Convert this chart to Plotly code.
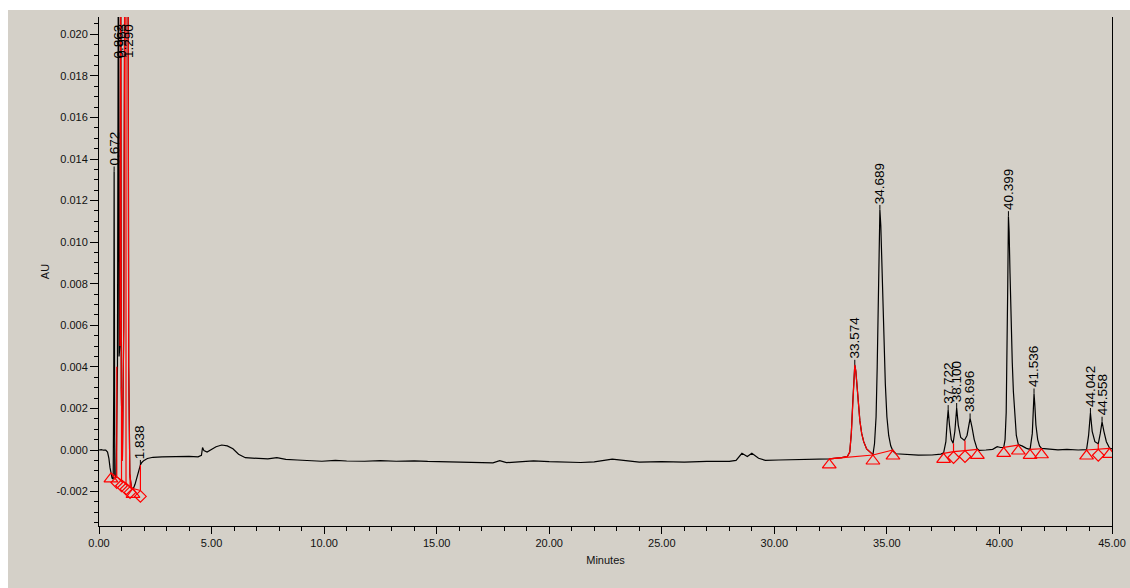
import plotly.graph_objects as go

# ---- chromatogram trace: retention time (min) and detector response (AU) ----
time_min = [
    0.00, 0.10, 0.20, 0.30, 0.38, 0.44, 0.49, 0.53, 0.58, 0.63,
    0.655, 0.672, 0.685, 0.70, 0.76, 0.82, 0.862, 0.89, 0.93, 0.963,
    0.99, 1.04, 1.10, 1.15, 1.25, 1.290, 1.32, 1.37, 1.44, 1.51,
    1.60, 1.70, 1.78, 1.838, 1.90, 2.00, 2.15, 2.40, 2.80, 3.20,
    3.60, 4.00, 4.40, 4.55, 4.60, 4.66, 4.80, 5.00, 5.20, 5.45,
    5.70, 5.95, 6.20, 6.50, 7.00, 7.50, 7.90, 8.30, 8.80, 9.40,
    9.90, 10.50, 11.00, 11.80, 12.50, 13.20, 14.00, 14.60, 15.40, 16.20,
    17.00, 17.50, 17.80, 18.10, 18.80, 19.30, 20.00, 20.80, 21.40, 22.00,
    22.80, 23.40, 24.00, 25.00, 26.00, 27.00, 28.00, 28.30, 28.56, 28.80,
    29.00, 29.30, 29.60, 30.20, 31.00, 31.80, 32.44, 33.00, 33.25, 33.35,
    33.42, 33.48, 33.53, 33.574, 33.62, 33.67, 33.73, 33.80, 33.88, 33.97,
    34.10, 34.25, 34.38, 34.45, 34.52, 34.57, 34.61, 34.65, 34.689, 34.73,
    34.77, 34.83, 34.88, 34.93, 35.00, 35.08, 35.17, 35.27, 35.40, 35.80,
    36.40, 37.00, 37.40, 37.52, 37.62, 37.68, 37.722, 37.78, 37.86, 37.94,
    38.02, 38.100, 38.17, 38.28, 38.44, 38.56, 38.63, 38.696, 38.78, 38.88,
    39.00, 39.10, 39.40, 39.70, 39.90, 40.05, 40.19, 40.25, 40.30, 40.34,
    40.37, 40.399, 40.43, 40.47, 40.52, 40.57, 40.62, 40.68, 40.75, 40.84,
    41.00, 41.20, 41.36, 41.46, 41.50, 41.536, 41.57, 41.62, 41.70, 41.78,
    41.87, 42.20, 42.60, 43.00, 43.50, 43.87, 43.96, 44.042, 44.12, 44.24,
    44.39, 44.48, 44.558, 44.64, 44.75, 44.89, 45.00,
]
absorbance_au = [
    0.00000, 0.00002, -0.00001, 0.00000, -0.00010, -0.00040, -0.00085, -0.00115, -0.00135, -0.00140,
    0.00300, 0.01340, 0.00250, -0.00120, -0.00135, 0.00400, 0.02600, 0.00450, 0.00500, 0.02600,
    0.00300, -0.00050, 0.00600, 0.02600, 0.02600, 0.02600, 0.00400, -0.00120, -0.00180, -0.00190,
    -0.00165, -0.00120, -0.00090, -0.00072, -0.00060, -0.00050, -0.00041, -0.00035, -0.00033, -0.00032,
    -0.00034, -0.00031, -0.00033, -0.00026, 0.00012, -0.00003, -0.00010, 0.00001, 0.00016, 0.00024,
    0.00020, 0.00006, -0.00020, -0.00037, -0.00040, -0.00043, -0.00037, -0.00045, -0.00048, -0.00051,
    -0.00054, -0.00050, -0.00053, -0.00054, -0.00051, -0.00054, -0.00052, -0.00055, -0.00057, -0.00058,
    -0.00060, -0.00062, -0.00051, -0.00061, -0.00056, -0.00052, -0.00056, -0.00058, -0.00060, -0.00057,
    -0.00044, -0.00051, -0.00058, -0.00056, -0.00058, -0.00055, -0.00055, -0.00050, -0.00016, -0.00031,
    -0.00016, -0.00040, -0.00050, -0.00048, -0.00047, -0.00046, -0.00043, -0.00037, -0.00030, -0.00010,
    0.00080, 0.00220, 0.00350, 0.00410, 0.00380, 0.00310, 0.00210, 0.00140, 0.00080, 0.00040,
    0.00005, -0.00012, -0.00022, 0.00030, 0.00160, 0.00400, 0.00650, 0.00960, 0.01155, 0.01080,
    0.00900, 0.00650, 0.00480, 0.00320, 0.00160, 0.00070, 0.00020, -0.00005, -0.00018, -0.00022,
    -0.00025, -0.00024, -0.00020, -0.00014, 0.00040, 0.00140, 0.00192, 0.00120, 0.00050, 0.00032,
    0.00090, 0.00202, 0.00120, 0.00060, 0.00046, 0.00070, 0.00115, 0.00152, 0.00110, 0.00050,
    0.00008, -0.00002, 0.00000, 0.00003, 0.00016, 0.00012, 0.00013, 0.00050, 0.00180, 0.00450,
    0.00800, 0.01125, 0.01050, 0.00850, 0.00600, 0.00420, 0.00280, 0.00150, 0.00070, 0.00026,
    0.00020, 0.00008, 0.00003, 0.00080, 0.00180, 0.00272, 0.00220, 0.00120, 0.00050, 0.00020,
    0.00008, 0.00005, 0.00001, 0.00003, 0.00000, 0.00002, 0.00070, 0.00178, 0.00090, 0.00040,
    0.00030, 0.00080, 0.00136, 0.00090, 0.00040, 0.00010, 0.00005,
]

# ---- integration baseline points ----
base_time = [0.53, 0.79, 1.00, 1.20, 1.38, 1.51, 1.84,
             32.44, 34.38, 35.27,
             37.52, 37.96, 38.47, 39.02,
             40.19, 40.84,
             41.36, 41.87,
             43.87, 44.39, 44.89]
base_au = [-0.00110, -0.00128, -0.00144, -0.00160, -0.00176, -0.00185, -0.00195,
           -0.00043, -0.00024, 0.00000,
           -0.00016, -0.00008, -0.00003, 0.00003,
           0.00013, 0.00024,
           0.00003, 0.00006,
           0.00000, 0.00003, 0.00008]
base_mark = ["tri", "dia", "dia", "dia", "dia", "tri", "dia",
             "tri", "tri", "tri",
             "tri", "dia", "dia", "tri",
             "tri", "tri",
             "tri", "tri",
             "tri", "dia", "tri"]
base_run = [1, 1, 1, 1, 1, 1, 1,
            2, 2, 2,
            3, 3, 3, 3,
            4, 4,
            5, 5,
            6, 6, 6]

# ---- labelled peaks (retention times) ----
peak_rt = [0.672, 0.862, 0.963, 1.290, 1.838, 33.574, 34.689,
           37.722, 38.100, 38.696, 40.399, 41.536, 44.042, 44.558]

# trace spans drawn in red (integrated peaks)
red_spans = [(0.90, 1.51), (32.44, 34.38)]

# ---- axis ticks ----
x_ticks = [0, 5, 10, 15, 20, 25, 30, 35, 40, 45]
y_ticks = [-0.002, 0.000, 0.002, 0.004, 0.006, 0.008, 0.010,
           0.012, 0.014, 0.016, 0.018, 0.020]

# ---- layout geometry ----
W, H = 1130, 588
ML, MR, MT, MB = 99, 18, 17, 62
X_RANGE = [0, 45]
Y_RANGE = [-0.003656, 0.020832]
plot_w = W - ML - MR
plot_h = H - MT - MB
au_per_px = (Y_RANGE[1] - Y_RANGE[0]) / plot_h

BG = "#d4d0c8"
RED = "#ff0000"
FONT = "Liberation Sans, Arial, sans-serif"

fig = go.Figure()

# main chromatogram
fig.add_trace(go.Scatter(
    x=time_min, y=absorbance_au, mode="lines",
    line=dict(color="black", width=1.2), hoverinfo="skip", showlegend=False))

# red overlay of integrated peak regions
for t0, t1 in red_spans:
    xs = [t for t in time_min if t0 <= t <= t1]
    ys = [a for t, a in zip(time_min, absorbance_au) if t0 <= t <= t1]
    fig.add_trace(go.Scatter(
        x=xs, y=ys, mode="lines", line=dict(color=RED, width=1.2),
        hoverinfo="skip", showlegend=False))

# baseline segments
bx, by = [], []
prev_run = None
for t, a, r in zip(base_time, base_au, base_run):
    if prev_run is not None and r != prev_run:
        bx.append(None)
        by.append(None)
    bx.append(t)
    by.append(a)
    prev_run = r
fig.add_trace(go.Scatter(
    x=bx, y=by, mode="lines", line=dict(color=RED, width=1.2),
    hoverinfo="skip", showlegend=False, connectgaps=False))


# drop lines from baseline up to the trace at shared boundaries
def trace_value_near(t):
    i = min(range(len(time_min)), key=lambda k: abs(time_min[k] - t))
    return absorbance_au[i]


dx, dy = [], []
for t, a, m in zip(base_time, base_au, base_mark):
    if m == "dia":
        dx += [t, t, None]
        dy += [a, trace_value_near(t), None]
fig.add_trace(go.Scatter(
    x=dx, y=dy, mode="lines", line=dict(color=RED, width=1.2),
    hoverinfo="skip", showlegend=False))

# boundary markers, hung below the baseline point
TRI_SIZE, DIA_SIZE = 12, 9
tri_off = (TRI_SIZE / 2) * au_per_px
dia_off = (DIA_SIZE / 2) * 1.3 * au_per_px
tx = [t for t, m in zip(base_time, base_mark) if m == "tri"]
ty = [a - tri_off for a, m in zip(base_au, base_mark) if m == "tri"]
qx = [t for t, m in zip(base_time, base_mark) if m == "dia"]
qy = [a - dia_off for a, m in zip(base_au, base_mark) if m == "dia"]
fig.add_trace(go.Scatter(
    x=tx, y=ty, mode="markers",
    marker=dict(symbol="triangle-up-open", size=TRI_SIZE, color=RED,
                line=dict(color=RED, width=1.2)),
    hoverinfo="skip", showlegend=False))
fig.add_trace(go.Scatter(
    x=qx, y=qy, mode="markers",
    marker=dict(symbol="diamond-open", size=DIA_SIZE, color=RED,
                line=dict(color=RED, width=1.2)),
    hoverinfo="skip", showlegend=False))

# peak retention-time labels
apex = dict(zip(time_min, absorbance_au))
for rt in peak_rt:
    h = apex[rt]
    label = f"{rt:.3f}"
    if h > Y_RANGE[1]:
        fig.add_annotation(x=rt, xref="x", y=1, yref="paper", text=label,
                           textangle=-90, showarrow=False, xanchor="center",
                           yanchor="top", yshift=-5,
                           font=dict(family=FONT, size=13.5, color="black"))
    else:
        fig.add_annotation(x=rt, y=h, text=label, textangle=-90,
                           showarrow=False, xanchor="center", yanchor="bottom",
                           yshift=4, font=dict(family=FONT, size=13.5, color="black"))
        fig.add_shape(type="line", xref="x", yref="y", x0=rt, x1=rt,
                      ysizemode="pixel", yanchor=h, y0=0, y1=5,
                      line=dict(color="black", width=1))


# white margins along the top and left edges of the panel
def px_x(p):
    return (p - ML) / plot_w


def px_y(p):
    return (H - MB - p) / plot_h


fig.add_shape(type="rect", xref="paper", yref="paper",
              x0=px_x(0), x1=px_x(8), y0=px_y(H), y1=px_y(0),
              line=dict(width=0), fillcolor="white", layer="below")
fig.add_shape(type="rect", xref="paper", yref="paper",
              x0=px_x(0), x1=px_x(W), y0=px_y(10), y1=px_y(0),
              line=dict(width=0), fillcolor="white", layer="below")

tick_font = dict(family=FONT, size=11, color="#111111")

fig.update_layout(
    width=W, height=H,
    margin=dict(l=ML, r=MR, t=MT, b=MB, pad=0, autoexpand=False),
    paper_bgcolor=BG, plot_bgcolor=BG,
    showlegend=False,
    font=dict(family=FONT, size=11, color="#111111"),
    xaxis=dict(
        range=X_RANGE, tickmode="array", tickvals=x_ticks,
        ticktext=[f"{v:.2f}" for v in x_ticks],
        showgrid=False, zeroline=False, automargin=False,
        showline=True, linecolor="black", linewidth=1,
        ticks="outside", ticklen=7, tickcolor="black", tickwidth=1,
        minor=dict(dtick=1, tick0=0, ticks="outside", ticklen=4,
                   tickcolor="black", tickwidth=1, showgrid=False),
        tickfont=tick_font,
        title=dict(text="Minutes", font=dict(family=FONT, size=11), standoff=8),
    ),
    yaxis=dict(
        range=Y_RANGE, tickmode="array", tickvals=y_ticks,
        ticktext=[f"{v:.3f}" for v in y_ticks],
        showgrid=False, zeroline=False, automargin=False,
        showline=True, linecolor="black", linewidth=1, mirror=True,
        ticks="outside", ticklen=8, tickcolor="black", tickwidth=1,
        minor=dict(dtick=0.0005, tick0=0, ticks="outside", ticklen=4,
                   tickcolor="black", tickwidth=1, showgrid=False),
        tickfont=tick_font,
        title=dict(text="AU", font=dict(family=FONT, size=11), standoff=4),
    ),
)

fig.write_html("out.html")
